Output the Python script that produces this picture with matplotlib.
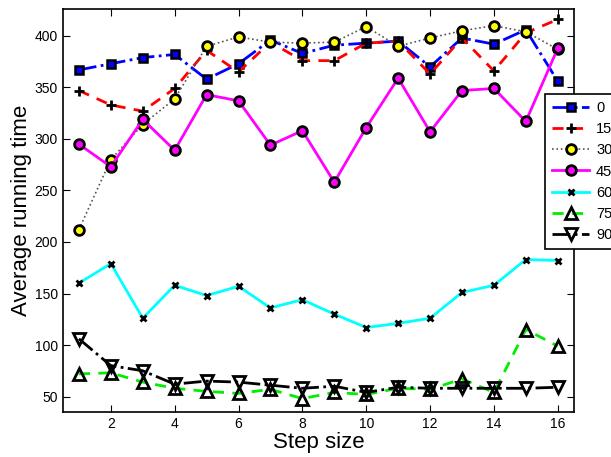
import matplotlib
matplotlib.use('Agg')
import matplotlib.pyplot as plt

# step sizes on x axis
steps = list(range(1, 17))

# average running time for each angle
s0 = [367, 373, 379, 382, 358, 373, 396, 383, 391, 393, 395, 370, 398, 392, 406, 356]
s15 = [347, 333, 327, 349, 386, 365, 394, 376, 376, 393, 395, 363, 398, 366, 403, 416]
s30 = [212, 280, 314, 339, 390, 399, 394, 393, 394, 409, 390, 398, 405, 410, 404, 387]
s45 = [295, 273, 319, 289, 343, 337, 294, 308, 258, 311, 359, 307, 347, 349, 317, 388]
s60 = [160, 179, 126, 158, 148, 157, 136, 144, 130, 117, 121, 126, 151, 158, 183, 182]
s75 = [72, 73, 64, 58, 55, 53, 57, 48, 54, 52, 58, 57, 67, 54, 115, 99]
s90 = [106, 80, 75, 62, 65, 64, 61, 58, 60, 54, 59, 58, 58, 58, 58, 59]
legend_labels = ['0', '15', '30', '45', '60', '75', '90']

plt.rcParams['font.family'] = ['Liberation Sans', 'DejaVu Sans']

fig = plt.figure(figsize=(6.11, 4.57), dpi=100)
ax = fig.add_axes([0.103, 0.0985, 0.836, 0.8815])

ax.plot(steps, s0, color='blue', linestyle='-.', lw=2, marker='s', ms=6,
        mfc='blue', mec='black', mew=1.8, label=legend_labels[0])
ax.plot(steps, s15, color='red', linestyle=(0, (4, 3)), lw=2, marker='+', ms=7,
        mec='black', mew=2, label=legend_labels[1])
ax.plot(steps, s30, color='#555555', linestyle=':', lw=1.2, marker='o', ms=7,
        mfc='yellow', mec='black', mew=2, label=legend_labels[2])
ax.plot(steps, s45, color='magenta', linestyle='-', lw=2, marker='o', ms=7,
        mfc='magenta', mec='black', mew=2, label=legend_labels[3])
ax.plot(steps, s60, color='cyan', linestyle='-', lw=2, marker='x', ms=5,
        mec='black', mew=2, label=legend_labels[4])
ax.plot(steps, s75, color='#00ee00', linestyle=(0, (4, 3)), lw=2, marker='^', ms=8,
        mfc='none', mec='black', mew=2, label=legend_labels[5])
ax.plot(steps, s90, color='black', linestyle='-.', lw=2, marker='v', ms=8,
        mfc='none', mec='black', mew=2, label=legend_labels[6])

ax.set_xlim(0.5, 16.5)
ax.set_ylim(35, 426)
ax.set_xticks(range(2, 17, 2))
ax.set_yticks(range(50, 401, 50))
ax.tick_params(direction='in', top=True, right=True, labelsize=10, length=5)
for sp in ax.spines.values():
    sp.set_linewidth(1.2)

ax.set_xlabel('Step size', fontsize=16, labelpad=1)
ax.set_ylabel('Average running time', fontsize=16, labelpad=2)

leg = ax.legend(loc='upper left', bbox_to_anchor=(0.892, 0.794),
                bbox_transform=fig.transFigure, fontsize=10.5, handlelength=2.6,
                labelspacing=0.5, borderpad=0.45, handletextpad=0.45,
                borderaxespad=0, fancybox=False, framealpha=1, edgecolor='black')
leg.get_frame().set_linewidth(1.2)

fig.savefig('out.png', dpi=100)
